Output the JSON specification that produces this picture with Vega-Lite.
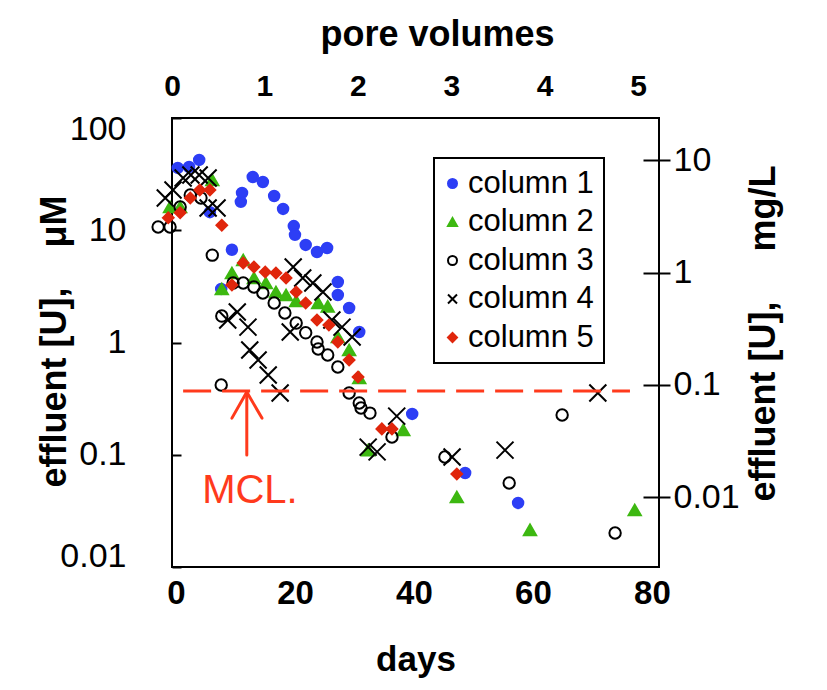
{
  "$schema": "https://vega.github.io/schema/vega-lite/v6.json",
  "width": 487,
  "height": 449,
  "autosize": {"type": "none"},
  "padding": {"left": 172, "top": 118, "right": 168, "bottom": 123},
  "background": "white",
  "config": {
    "view": {"stroke": "black", "strokeWidth": 2},
    "font": "Liberation Sans",
    "axis": {"domain": false, "grid": false, "labelColor": "black", "titleColor": "black", "tickColor": "black", "tickWidth": 2},
    "legend": {"strokeWidth": 2}
  },
  "datasets": {
    "pts": [
      {"s": "column 1", "d": 0.3, "u": 35.9}, {"s": "column 1", "d": 2.2, "u": 36.6}, {"s": "column 1", "d": 3.9, "u": 42.3},
      {"s": "column 1", "d": 5.7, "u": 14.5}, {"s": "column 1", "d": 7.6, "u": 3.0}, {"s": "column 1", "d": 9.4, "u": 6.7},
      {"s": "column 1", "d": 10.9, "u": 17.9}, {"s": "column 1", "d": 11.1, "u": 21.5}, {"s": "column 1", "d": 12.9, "u": 29.8},
      {"s": "column 1", "d": 14.6, "u": 26.9}, {"s": "column 1", "d": 16.5, "u": 20.2}, {"s": "column 1", "d": 18.0, "u": 15.5},
      {"s": "column 1", "d": 19.8, "u": 10.9}, {"s": "column 1", "d": 20.0, "u": 9.1}, {"s": "column 1", "d": 21.8, "u": 7.4},
      {"s": "column 1", "d": 23.7, "u": 6.4}, {"s": "column 1", "d": 25.4, "u": 6.95}, {"s": "column 1", "d": 27.2, "u": 3.46},
      {"s": "column 1", "d": 27.2, "u": 2.65}, {"s": "column 1", "d": 29.1, "u": 2.03}, {"s": "column 1", "d": 30.8, "u": 1.24},
      {"s": "column 1", "d": 39.7, "u": 0.231}, {"s": "column 1", "d": 48.6, "u": 0.0688}, {"s": "column 1", "d": 57.5, "u": 0.0372},

      {"s": "column 2", "d": -1.0, "u": 16.1}, {"s": "column 2", "d": 0.7, "u": 16.1}, {"s": "column 2", "d": 6.1, "u": 28.0},
      {"s": "column 2", "d": 7.7, "u": 3.0}, {"s": "column 2", "d": 9.4, "u": 4.16}, {"s": "column 2", "d": 11.3, "u": 5.43},
      {"s": "column 2", "d": 13.1, "u": 3.76}, {"s": "column 2", "d": 15.1, "u": 3.39}, {"s": "column 2", "d": 16.8, "u": 2.82},
      {"s": "column 2", "d": 18.5, "u": 2.65}, {"s": "column 2", "d": 20.2, "u": 2.34}, {"s": "column 2", "d": 23.9, "u": 2.25},
      {"s": "column 2", "d": 25.5, "u": 2.1}, {"s": "column 2", "d": 27.2, "u": 1.12}, {"s": "column 2", "d": 29.1, "u": 0.857},
      {"s": "column 2", "d": 30.8, "u": 0.483}, {"s": "column 2", "d": 32.3, "u": 0.11}, {"s": "column 2", "d": 38.2, "u": 0.166},
      {"s": "column 2", "d": 47.2, "u": 0.042}, {"s": "column 2", "d": 59.5, "u": 0.0214}, {"s": "column 2", "d": 77.1, "u": 0.0322},

      {"s": "column 3", "d": -3.0, "u": 10.7}, {"s": "column 3", "d": -1.0, "u": 10.7}, {"s": "column 3", "d": 0.7, "u": 16.1},
      {"s": "column 3", "d": 2.4, "u": 20.6}, {"s": "column 3", "d": 4.2, "u": 19.4}, {"s": "column 3", "d": 6.1, "u": 6.0},
      {"s": "column 3", "d": 7.7, "u": 1.72}, {"s": "column 3", "d": 7.6, "u": 0.418}, {"s": "column 3", "d": 9.6, "u": 3.39},
      {"s": "column 3", "d": 11.3, "u": 3.39}, {"s": "column 3", "d": 13.1, "u": 3.12}, {"s": "column 3", "d": 14.6, "u": 2.76},
      {"s": "column 3", "d": 16.5, "u": 2.25}, {"s": "column 3", "d": 18.3, "u": 1.83}, {"s": "column 3", "d": 20.2, "u": 1.49},
      {"s": "column 3", "d": 21.8, "u": 1.22}, {"s": "column 3", "d": 23.7, "u": 1.01}, {"s": "column 3", "d": 23.9, "u": 0.875},
      {"s": "column 3", "d": 25.5, "u": 0.774}, {"s": "column 3", "d": 27.2, "u": 0.605}, {"s": "column 3", "d": 29.1, "u": 0.355},
      {"s": "column 3", "d": 30.8, "u": 0.289}, {"s": "column 3", "d": 31.1, "u": 0.261}, {"s": "column 3", "d": 32.6, "u": 0.235},
      {"s": "column 3", "d": 36.3, "u": 0.144}, {"s": "column 3", "d": 45.2, "u": 0.0955}, {"s": "column 3", "d": 56.0, "u": 0.056},
      {"s": "column 3", "d": 64.9, "u": 0.226}, {"s": "column 3", "d": 73.8, "u": 0.0201},

      {"s": "column 4", "d": -1.8, "u": 19.4}, {"s": "column 4", "d": -0.5, "u": 22.8}, {"s": "column 4", "d": 1.2, "u": 29.2},
      {"s": "column 4", "d": 2.5, "u": 31.1}, {"s": "column 4", "d": 3.9, "u": 31.1}, {"s": "column 4", "d": 5.4, "u": 29.2},
      {"s": "column 4", "d": 5.4, "u": 15.8}, {"s": "column 4", "d": 6.9, "u": 15.8}, {"s": "column 4", "d": 8.7, "u": 1.585},
      {"s": "column 4", "d": 10.3, "u": 1.87}, {"s": "column 4", "d": 12.1, "u": 1.37}, {"s": "column 4", "d": 12.4, "u": 0.857},
      {"s": "column 4", "d": 13.8, "u": 0.698}, {"s": "column 4", "d": 15.5, "u": 0.513}, {"s": "column 4", "d": 17.5, "u": 0.355},
      {"s": "column 4", "d": 19.2, "u": 1.24}, {"s": "column 4", "d": 19.7, "u": 4.71}, {"s": "column 4", "d": 21.3, "u": 3.76},
      {"s": "column 4", "d": 23.0, "u": 3.39}, {"s": "column 4", "d": 24.7, "u": 2.82}, {"s": "column 4", "d": 26.2, "u": 1.585},
      {"s": "column 4", "d": 27.9, "u": 1.37}, {"s": "column 4", "d": 29.6, "u": 1.12}, {"s": "column 4", "d": 32.3, "u": 0.117},
      {"s": "column 4", "d": 33.8, "u": 0.106}, {"s": "column 4", "d": 37.1, "u": 0.221}, {"s": "column 4", "d": 46.4, "u": 0.0955},
      {"s": "column 4", "d": 55.3, "u": 0.11}, {"s": "column 4", "d": 70.9, "u": 0.355},

      {"s": "column 5", "d": -1.3, "u": 12.9}, {"s": "column 5", "d": 0.7, "u": 14.3}, {"s": "column 5", "d": 2.4, "u": 19.4},
      {"s": "column 5", "d": 4.0, "u": 22.8}, {"s": "column 5", "d": 5.7, "u": 22.8}, {"s": "column 5", "d": 7.7, "u": 11.1},
      {"s": "column 5", "d": 9.4, "u": 3.25}, {"s": "column 5", "d": 11.3, "u": 5.1}, {"s": "column 5", "d": 13.1, "u": 4.71},
      {"s": "column 5", "d": 15.0, "u": 4.25}, {"s": "column 5", "d": 16.8, "u": 4.16}, {"s": "column 5", "d": 18.5, "u": 3.76},
      {"s": "column 5", "d": 20.2, "u": 2.82}, {"s": "column 5", "d": 21.8, "u": 2.25}, {"s": "column 5", "d": 23.7, "u": 1.585},
      {"s": "column 5", "d": 25.7, "u": 1.43}, {"s": "column 5", "d": 27.2, "u": 1.01}, {"s": "column 5", "d": 29.1, "u": 0.698},
      {"s": "column 5", "d": 30.6, "u": 0.493}, {"s": "column 5", "d": 34.6, "u": 0.17}, {"s": "column 5", "d": 36.3, "u": 0.17},
      {"s": "column 5", "d": 47.2, "u": 0.0673}
    ],
    "mcl": [{"d": 1.2, "d2": 76.3, "u": 0.37}],
    "arrow": [
      {"d": 11.9, "u": 0.0995, "d2": 11.9, "u2": 0.362},
      {"d": 9.4, "u": 0.212, "d2": 11.9, "u2": 0.362},
      {"d": 14.45, "u": 0.212, "d2": 11.9, "u2": 0.362}
    ],
    "lbl": [{"d": 4.4, "u": 0.0372, "t": "MCL."}],
    "axisref": [{"d": 0, "u": 1}]
  },
  "layer": [
    {
      "data": {"name": "pts"},
      "transform": [{"filter": "datum.s == 'column 1'"}],
      "mark": {"type": "point", "strokeWidth": 2, "opacity": 1, "size": 110},
      "encoding": {
        "x": {"field": "d", "type": "quantitative",
              "scale": {"domain": [-0.67, 81.18], "nice": false, "zero": false},
              "axis": {"orient": "bottom", "values": [0, 20, 40, 60, 80], "ticks": false, "labelPadding": 10, "labelFlush": false,
                       "labelFontSize": 33, "labelFontWeight": "bold",
                       "title": "days", "titleFontSize": 35, "titleFontWeight": "bold",
                       "titleBaseline": "alphabetic", "titleY": 103}},
        "y": {"field": "u", "type": "quantitative",
              "scale": {"type": "log", "domain": [0.01, 100], "nice": false},
              "axis": {"orient": "left", "values": [0.01, 0.1, 1, 10, 100], "format": "~g", "offset": -9, "tickSize": 9,
                       "labelPadding": 46, "labelFlush": true, "labelFlushOffset": 6,
                       "labelFontSize": 34,
                       "title": "effluent [U],\u00a0\u00a0\u00a0\u00a0μM", "titleFontSize": 36, "titleFontWeight": "bold",
                       "titleAngle": 270, "titleBaseline": "alphabetic", "titleAlign": "center", "titleX": -116, "titleY": 223}},
        "shape": {"field": "s", "type": "nominal",
                  "scale": {"domain": ["column 1", "column 2", "column 3", "column 4", "column 5"],
                            "range": ["circle", "triangle-up", "circle", "M-1,-1L1,1M-1,1L1,-1", "diamond"]},
                  "legend": {"orient": "none", "legendX": 262, "legendY": 40, "title": null, "padding": 10,
                             "strokeColor": "black", "fillColor": "white", "labelFontSize": 31,
                             "labelColor": "black", "labelOffset": 0, "symbolOffset": -7, "rowPadding": 6.5, "symbolSize": 81, "symbolStrokeWidth": 2,
                             "labelExpr": "datum.label + '\u00a0\u00a0\u00a0'"}},
        "fill": {"field": "s", "type": "nominal",
                 "scale": {"domain": ["column 1", "column 2", "column 3", "column 4", "column 5"],
                           "range": ["#2d3ef5", "#3db811", "transparent", "transparent", "#e0260c"]}},
        "stroke": {"field": "s", "type": "nominal",
                   "scale": {"domain": ["column 1", "column 2", "column 3", "column 4", "column 5"],
                             "range": ["#2d3ef5", "#3db811", "black", "black", "#e0260c"]}}
      }
    },
    {
      "data": {"name": "pts"},
      "transform": [{"filter": "datum.s == 'column 2'"}],
      "mark": {"type": "point", "strokeWidth": 2, "opacity": 1, "size": 150},
      "encoding": {
        "x": {"field": "d", "type": "quantitative", "axis": null},
        "y": {"field": "u", "type": "quantitative", "axis": null},
        "shape": {"field": "s", "type": "nominal"},
        "fill": {"field": "s", "type": "nominal"},
        "stroke": {"field": "s", "type": "nominal"}
      }
    },
    {
      "data": {"name": "pts"},
      "transform": [{"filter": "datum.s == 'column 3'"}],
      "mark": {"type": "point", "strokeWidth": 2, "opacity": 1, "size": 130},
      "encoding": {
        "x": {"field": "d", "type": "quantitative", "axis": null},
        "y": {"field": "u", "type": "quantitative", "axis": null},
        "shape": {"field": "s", "type": "nominal"},
        "fill": {"field": "s", "type": "nominal"},
        "stroke": {"field": "s", "type": "nominal"}
      }
    },
    {
      "data": {"name": "pts"},
      "transform": [{"filter": "datum.s == 'column 4'"}],
      "mark": {"type": "point", "strokeWidth": 2, "opacity": 1, "size": 289},
      "encoding": {
        "x": {"field": "d", "type": "quantitative", "axis": null},
        "y": {"field": "u", "type": "quantitative", "axis": null},
        "shape": {"field": "s", "type": "nominal"},
        "fill": {"field": "s", "type": "nominal"},
        "stroke": {"field": "s", "type": "nominal"}
      }
    },
    {
      "data": {"name": "pts"},
      "transform": [{"filter": "datum.s == 'column 5'"}],
      "mark": {"type": "point", "strokeWidth": 2, "opacity": 1, "size": 115},
      "encoding": {
        "x": {"field": "d", "type": "quantitative", "axis": null},
        "y": {"field": "u", "type": "quantitative", "axis": null},
        "shape": {"field": "s", "type": "nominal"},
        "fill": {"field": "s", "type": "nominal"},
        "stroke": {"field": "s", "type": "nominal"}
      }
    },
    {
      "data": {"name": "mcl"},
      "mark": {"type": "rule", "color": "#ff3a1c", "strokeWidth": 3, "strokeDash": [28, 11]},
      "encoding": {
        "x": {"field": "d", "type": "quantitative", "axis": null},
        "x2": {"field": "d2"},
        "y": {"field": "u", "type": "quantitative", "axis": null}
      }
    },
    {
      "data": {"name": "arrow"},
      "mark": {"type": "rule", "color": "#ff3a1c", "strokeWidth": 3, "strokeCap": "round"},
      "encoding": {
        "x": {"field": "d", "type": "quantitative", "axis": null},
        "x2": {"field": "d2"},
        "y": {"field": "u", "type": "quantitative", "axis": null},
        "y2": {"field": "u2"}
      }
    },
    {
      "data": {"name": "lbl"},
      "mark": {"type": "text", "color": "#ff3a1c", "fontSize": 40, "align": "left", "baseline": "alphabetic"},
      "encoding": {
        "x": {"field": "d", "type": "quantitative", "axis": null},
        "y": {"field": "u", "type": "quantitative", "axis": null},
        "text": {"field": "t"}
      }
    },
    {
      "data": {"name": "axisref"},
      "mark": {"type": "point", "opacity": 0},
      "encoding": {
        "x": {"field": "d", "type": "quantitative",
              "axis": {"orient": "top", "values": [-0.67, 14.86, 30.56, 46.26, 61.96, 77.66],
                       "labelExpr": "round((datum.value + 0.84) / 15.7)", "labelFlush": false,
                       "ticks": false, "labelPadding": 23, "labelBaseline": "alphabetic",
                       "labelFontSize": 30, "labelFontWeight": "bold",
                       "title": "pore volumes", "titleFontSize": 36, "titleFontWeight": "bold",
                       "titleBaseline": "alphabetic", "titleAlign": "center", "titleX": 265, "titleY": -73}},
        "y": {"field": "u", "type": "quantitative",
              "axis": {"orient": "right", "values": [0.0420168, 0.420168, 4.20168, 42.0168],
                       "labelExpr": "format(datum.value * 0.238, '.2~r')",
                       "offset": -16, "tickSize": 27, "labelPadding": 3, "labelFontSize": 34,
                       "title": "effluent [U],\u00a0\u00a0\u00a0\u00a0\u00a0mg/L", "titleFontSize": 36, "titleFontWeight": "bold",
                       "titleAngle": 270, "titleBaseline": "alphabetic", "titleAlign": "center", "titleX": 131, "titleY": 215}}
      }
    }
  ],
  "resolve": {"axis": {"x": "independent", "y": "independent"}}
}
